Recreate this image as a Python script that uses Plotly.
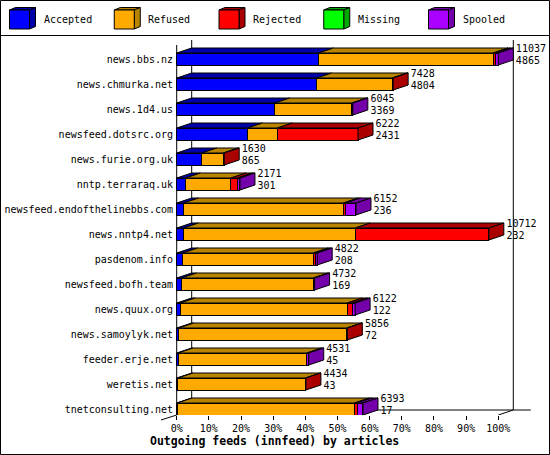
import plotly.graph_objects as go

# outgoing innfeed peers, counts in articles
feeds = ["news.bbs.nz", "news.chmurka.net", "news.1d4.us", "newsfeed.dotsrc.org",
         "news.furie.org.uk", "nntp.terraraq.uk", "newsfeed.endofthelinebbs.com",
         "news.nntp4.net", "pasdenom.info", "newsfeed.bofh.team", "news.quux.org",
         "news.samoylyk.net", "feeder.erje.net", "weretis.net", "tnetconsulting.net"]
totals = [11037, 7428, 6045, 6222, 1630, 2171, 6152, 10712, 4822, 4732, 6122, 5856, 4531, 4434, 6393]
accepted = [4865, 4804, 3369, 2431, 865, 301, 236, 232, 208, 169, 122, 72, 45, 43, 17]
refused = [5990, 2594, 2640, 1023, 734, 1562, 5481, 5896, 4479, 4520, 5731, 5762, 4417, 4381, 6078]
rejected = [80, 30, 0, 2768, 31, 230, 80, 4584, 70, 0, 172, 22, 0, 10, 103]
missing = [0, 0, 0, 0, 0, 0, 0, 0, 0, 0, 0, 0, 0, 0, 0]
spooled = [102, 0, 36, 0, 0, 78, 355, 0, 65, 43, 97, 0, 69, 0, 195]

series_names = ["Accepted", "Refused", "Rejected", "Missing", "Spooled"]
series = [accepted, refused, rejected, missing, spooled]
front_cols = ["#0000ff", "#ffaa00", "#ff0000", "#00ff00", "#aa00ff"]
dark_cols = ["#0000a8", "#b98500", "#aa0000", "#00aa00", "#7400aa"]
tick_pct = [0, 10, 20, 30, 40, 50, 60, 70, 80, 90, 100]
tick_txt = [f"{t}%" for t in tick_pct]

MONO = "DejaVu Sans Mono"
top = max(totals)
n = len(feeds)
rows = list(range(n))

# fake 3d: depth offsets (x in %, y in row units)
DX = 15 / 3.216
DY = 0.2
BH = 0.48

# plot area in pixels, for the decorations outside the data
L, R, T, B = 176, 531, 35, 415
def px(x):
    return (x - L) / (R - L)
def py(y):
    return (B - y) / (B - T)

fig = go.Figure()

# front faces
for name, vals, col in zip(series_names, series, front_cols):
    fig.add_trace(go.Bar(
        x=[v / top * 100 if v else None for v in vals], y=rows, orientation="h",
        width=BH, marker=dict(color=col, line=dict(color="black", width=1)),
        name=name, showlegend=False, hoverinfo="skip"))

# top faces (per segment) and side face (last segment)
tops = {c: ([], []) for c in dark_cols}
sides = {c: ([], []) for c in dark_cols}
for i in rows:
    yt = i - BH / 2
    yb = i + BH / 2
    x0 = 0
    last = None
    for k, vals in enumerate(series):
        if not vals[i]:
            continue
        x1 = x0 + vals[i] / top * 100
        xs, ys = tops[dark_cols[k]]
        xs += [x0, x1, x1 + DX, x0 + DX, x0, None]
        ys += [yt, yt, yt - DY, yt - DY, yt, None]
        x0 = x1
        last = k
    xs, ys = sides[dark_cols[last]]
    xs += [x0, x0, x0 + DX, x0 + DX, x0, None]
    ys += [yb, yt, yt - DY, yb - DY, yb, None]

for faces in (tops, sides):
    for col, (xs, ys) in faces.items():
        if not xs:
            continue
        fig.add_trace(go.Scatter(x=xs, y=ys, mode="lines", fill="toself", fillcolor=col,
                                 line=dict(color="black", width=1), showlegend=False,
                                 hoverinfo="skip"))

# value labels: total over accepted
ends = [t / top * 100 + DX + 0.8 for t in totals]
fig.add_trace(go.Scatter(x=ends, y=[i - 0.38 for i in rows], mode="text",
                         text=[str(t) for t in totals], textposition="middle right",
                         textfont=dict(family=MONO, size=10, color="black"),
                         cliponaxis=False, showlegend=False, hoverinfo="skip"))
fig.add_trace(go.Scatter(x=ends, y=[i + 0.08 for i in rows], mode="text",
                         text=[str(a) for a in accepted], textposition="middle right",
                         textfont=dict(family=MONO, size=10, color="black"),
                         cliponaxis=False, showlegend=False, hoverinfo="skip"))

y_front = n - 1 + BH / 2
y_back = y_front - DY
y_top = -0.56
shapes = [
    dict(type="line", x0=DX, x1=DX, y0=y_top - DY, y1=y_back),
    dict(type="line", x0=100 + DX, x1=100 + DX, y0=y_top - DY, y1=y_back),
    dict(type="line", x0=DX, x1=110.1, y0=y_back, y1=y_back),
    dict(type="line", x0=0, x1=0, y0=y_top, y1=y_front),
    dict(type="line", x0=100, x1=100 + DX, y0=y_front, y1=y_back),
]
for s in shapes:
    s.update(xref="x", yref="y", layer="below", line=dict(color="black", width=1))
shapes += [
    dict(type="line", xref="paper", yref="paper", x0=px(161), x1=px(176.7),
         y0=py(420), y1=py(415), line=dict(color="black", width=1)),
    dict(type="line", xref="paper", yref="paper", x0=px(0), x1=px(550),
         y0=py(35.5), y1=py(35.5), line=dict(color="black", width=1)),
    dict(type="rect", xref="paper", yref="paper", x0=px(0.5), x1=px(549.5),
         y0=py(0.5), y1=py(454.5), line=dict(color="black", width=1)),
]

# legend boxes drawn as little cubes
annotations = []
for k, name in enumerate(series_names):
    lx = 9.5 + 104.75 * k
    def path(pts):
        return "M " + " L ".join(f"{px(a)},{py(b)}" for a, b in pts) + " Z"
    shapes.append(dict(type="path", xref="paper", yref="paper", fillcolor=dark_cols[k],
                       line=dict(color="black", width=1),
                       path=path([(lx, 10), (lx + 6, 7.5), (lx + 26, 7.5), (lx + 20, 10)])))
    shapes.append(dict(type="path", xref="paper", yref="paper", fillcolor=dark_cols[k],
                       line=dict(color="black", width=1),
                       path=path([(lx + 20, 10), (lx + 26, 7.5), (lx + 26, 26.5), (lx + 20, 29)])))
    shapes.append(dict(type="rect", xref="paper", yref="paper", fillcolor=front_cols[k],
                       line=dict(color="black", width=1),
                       x0=px(lx), x1=px(lx + 20), y0=py(29), y1=py(10)))
    annotations.append(dict(xref="paper", yref="paper", x=px(lx + 32), y=py(20),
                            text=name, showarrow=False, xanchor="left", yanchor="middle",
                            font=dict(family=MONO, size=10, color="black")))

annotations.append(dict(xref="paper", yref="paper", x=px(274), y=py(441),
                        text="<b>Outgoing feeds (innfeed) by articles</b>", showarrow=False,
                        xanchor="center", yanchor="middle",
                        font=dict(family=MONO, size=11.5, color="black")))

fig.update_layout(
    width=550, height=455, autosize=False,
    margin=dict(l=L, r=550 - R, t=T, b=455 - B),
    paper_bgcolor="white", plot_bgcolor="white",
    barmode="stack", showlegend=False,
    shapes=shapes, annotations=annotations,
    xaxis=dict(range=[(L - 176.7) / 3.216, (R - 176.7) / 3.216], tickvals=tick_pct,
               ticktext=tick_txt, ticks="outside", ticklen=4, tickcolor="black",
               showgrid=False, zeroline=False, showline=False, automargin=False,
               tickfont=dict(family=MONO, size=10, color="black")),
    yaxis=dict(range=[(B - 59) / 25, (T - 59) / 25], tickvals=rows, ticktext=feeds,
               ticks="", showgrid=False, zeroline=False, showline=False, automargin=False,
               ticklabelstandoff=2,
               tickfont=dict(family=MONO, size=10, color="black")),
)

# page body has an 8px margin by default
fig.write_html("out.html", config={"displayModeBar": False},
               post_script="document.body.style.margin='0';document.body.style.overflow='hidden';")
